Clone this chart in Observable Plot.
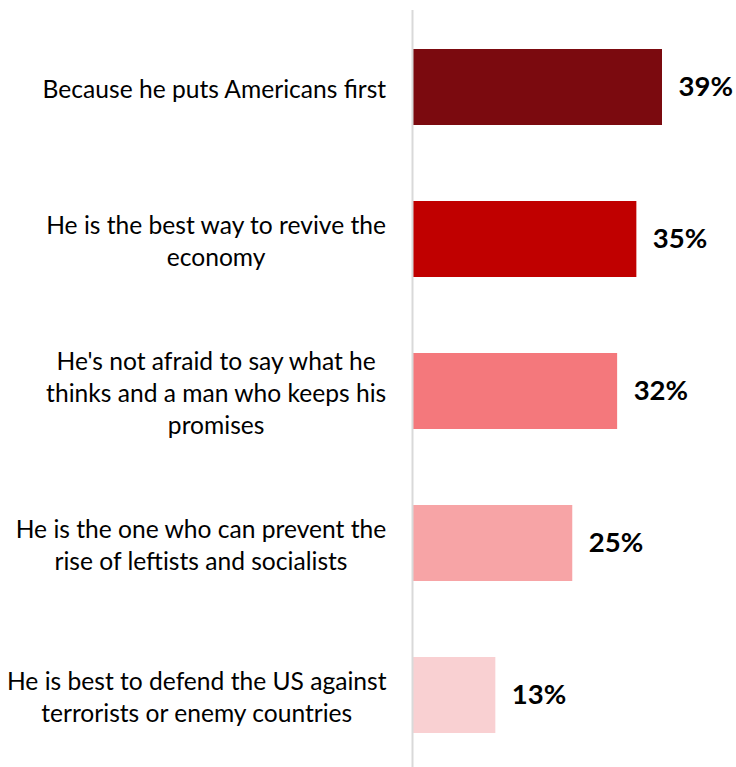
<!DOCTYPE html>
<html>
<head>
<meta charset="utf-8">
<script src="https://cdn.jsdelivr.net/npm/d3@7"></script>
<script src="https://cdn.jsdelivr.net/npm/@observablehq/plot@0.6"></script>
<style>
  html, body { margin: 0; padding: 0; background: #fff; }
  #chart svg { display: block; }
</style>
</head>
<body>
<div id="chart"></div>
<script>
const categories = [
  "Because he puts Americans first",
  "He is the best way to revive the\neconomy",
  "He's not afraid to say what he\nthinks and a man who keeps his\npromises",
  "He is the one who can prevent the\nrise of leftists and socialists",
  "He is best to defend the US against\nterrorists or enemy countries"
];
const values = [39, 35, 32, 25, 13];
const colors = ["#7B0A0F", "#C00000", "#F4787C", "#F7A4A6", "#F9D0D2"];

const data = categories.map((c, i) => ({category: c, value: values[i], color: colors[i]}));

const font = "Lato, 'Open Sans', sans-serif";
const labelSize = 24.6;
const labelGap = 26;

// measure the widest line of each label so lines can be centred on each other (Excel style)
const ctx = document.createElement("canvas").getContext("2d");
ctx.font = `${labelSize}px Lato`;
const widest = c => Math.max(...c.split("\n").map(s => ctx.measureText(s).width));

const labelMarks = data.map(d =>
  Plot.text([d], {x: 0, y: "category", text: "category", textAnchor: "middle",
    dx: -labelGap - widest(d.category) / 2,
    fontSize: labelSize, lineHeight: 1.3, fill: "#000", fontFamily: font})
);

const chart = Plot.plot({
  width: 736,
  height: 767,
  marginLeft: 412,
  marginRight: 0,
  marginTop: 10,
  marginBottom: 0,
  style: {fontFamily: font, background: "#fff"},
  x: {domain: [0, 50], range: [412, 412 + 50 * 250 / 39], axis: null},
  y: {domain: categories, range: [10, 771], paddingInner: 0.5, paddingOuter: 0.25, axis: null},
  marks: [
    Plot.barX(data, {x: "value", y: "category", fill: "color"}),
    Plot.ruleX([0], {stroke: "#d9d9d9", strokeWidth: 2}),
    ...labelMarks,
    Plot.text(data, {x: "value", y: "category", text: d => d.value + "%", textAnchor: "start", dx: 16,
      fontSize: 27.5, fontWeight: "bold", fill: "#000", fontFamily: font})
  ]
});
document.getElementById("chart").appendChild(chart);
</script>
</body>
</html>
